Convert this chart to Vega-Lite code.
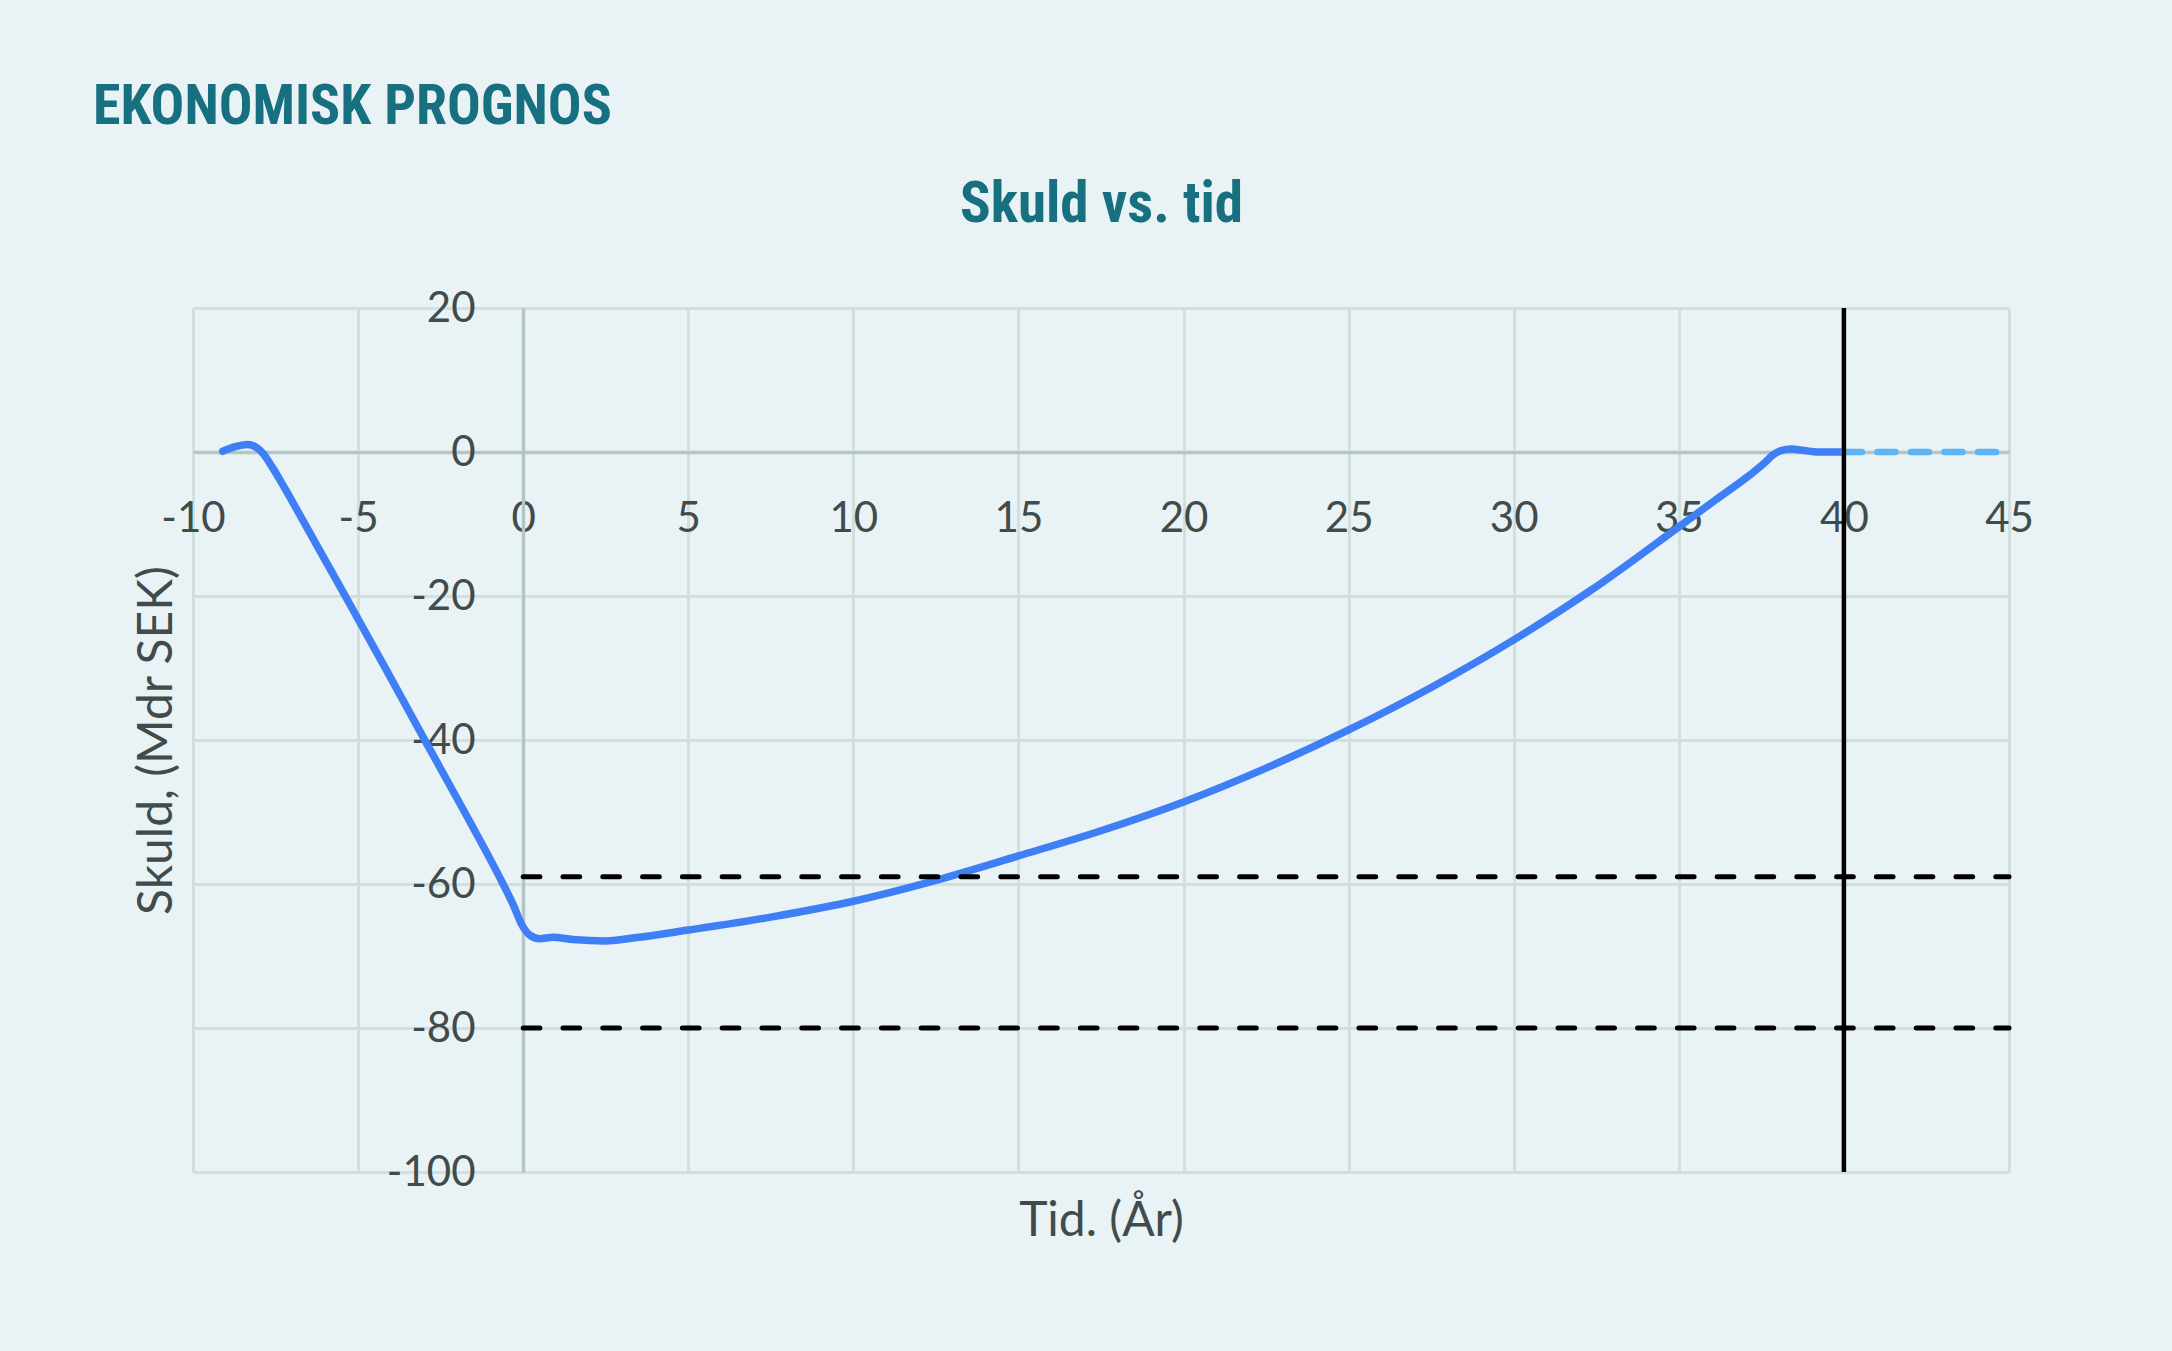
{
  "$schema": "https://vega.github.io/schema/vega-lite/v6.json",
  "width": 1816,
  "height": 864,
  "autosize": {"type": "none"},
  "padding": {"left": 193, "top": 308, "right": 163, "bottom": 179},
  "background": "#e9f2f4",
  "config": {
    "view": {"stroke": null},
    "axis": {"zindex": 0}
  },
  "title": {
    "text": "EKONOMISK PROGNOS",
    "anchor": "start",
    "frame": "group",
    "font": "Roboto Condensed, Roboto",
    "fontWeight": "bold",
    "fontSize": 56,
    "color": "#17707f",
    "baseline": "alphabetic",
    "dx": -100,
    "offset": -5
  },
  "datasets": {
    "curve": [
      {"t": -9.1, "v": 0.1}, {"t": -8.75, "v": 0.7}, {"t": -8.35, "v": 1.05}, {"t": -8.1, "v": 0.7},
      {"t": -7.88, "v": -0.2}, {"t": -7.6, "v": -2.1}, {"t": -7.35, "v": -4.0}, {"t": -7.1, "v": -6.0},
      {"t": -6.05, "v": -14.6}, {"t": -5.34, "v": -20.4}, {"t": -4.2, "v": -29.8}, {"t": -3.03, "v": -39.6},
      {"t": -1.8, "v": -49.8}, {"t": -0.61, "v": -60.0}, {"t": -0.3, "v": -62.9}, {"t": -0.05, "v": -65.6},
      {"t": 0.2, "v": -67.1}, {"t": 0.5, "v": -67.6}, {"t": 0.9, "v": -67.4}, {"t": 1.5, "v": -67.7},
      {"t": 2.5, "v": -67.9}, {"t": 3.5, "v": -67.4}, {"t": 5.0, "v": -66.4}, {"t": 7.5, "v": -64.6},
      {"t": 10.0, "v": -62.4}, {"t": 12.5, "v": -59.5}, {"t": 15.0, "v": -56.1}, {"t": 17.5, "v": -52.6},
      {"t": 20.0, "v": -48.6}, {"t": 22.5, "v": -43.9}, {"t": 25.0, "v": -38.6}, {"t": 27.5, "v": -32.7},
      {"t": 30.0, "v": -26.1}, {"t": 32.5, "v": -18.7}, {"t": 35.0, "v": -10.4}, {"t": 36.1, "v": -6.7},
      {"t": 37.15, "v": -3.2}, {"t": 37.6, "v": -1.5}, {"t": 37.85, "v": -0.4}, {"t": 38.1, "v": 0.2},
      {"t": 38.4, "v": 0.4}, {"t": 38.8, "v": 0.2}, {"t": 39.2, "v": 0.0}, {"t": 40.0, "v": 0.0}
    ],
    "forecast": [{"t": 40, "v": 0}, {"t": 45, "v": 0}],
    "limits": [{"v": -59}, {"v": -80}],
    "marker": [{"t": 40}]
  },
  "resolve": {"axis": {"x": "independent", "y": "independent"}},
  "layer": [
    {
      "data": {"name": "curve"},
      "mark": {"type": "line", "color": "#3f7ff5", "strokeWidth": 7.5, "strokeCap": "round", "strokeJoin": "round", "interpolate": "monotone"},
      "encoding": {
        "x": {
          "field": "t", "type": "quantitative",
          "scale": {"domain": [-10, 45], "nice": false, "zero": false},
          "axis": {
            "orient": "bottom", "offset": -720,
            "values": [-10, -5, 0, 5, 10, 15, 20, 25, 30, 35, 40, 45],
            "grid": true, "gridColor": "#d3dfdc", "gridWidth": 3,
            "domain": true, "domainColor": "#b4c5c5", "domainWidth": 3.5,
            "ticks": false, "labelPadding": 46, "labelFlush": false, "labelOverlap": false,
            "labelExpr": "replace(datum.label, '−', '-')",
            "labelFont": "Lato", "labelFontSize": 42, "labelColor": "#404b4b",
            "title": "Tid. (År)", "titleFont": "Lato", "titleFontSize": 48, "titleFontWeight": "normal",
            "titleColor": "#404b4b", "titlePadding": 658
          }
        },
        "y": {
          "field": "v", "type": "quantitative",
          "scale": {"domain": [-100, 20], "nice": false, "zero": false},
          "axis": {
            "orient": "left", "offset": -330,
            "values": [-100, -80, -60, -40, -20, 0, 20],
            "grid": true, "gridColor": "#d3dfdc", "gridWidth": 3,
            "domain": true, "domainColor": "#b4c5c5", "domainWidth": 3.5,
            "ticks": false, "labelPadding": 48, "labelFlush": false, "labelOverlap": false,
            "labelExpr": "replace(datum.label, '−', '-')",
            "labelFont": "Lato", "labelFontSize": 42, "labelColor": "#404b4b",
            "title": "Skuld, (Mdr SEK)", "titleFont": "Lato", "titleFontSize": 48, "titleFontWeight": "normal",
            "titleColor": "#404b4b", "titlePadding": 205
          }
        }
      }
    },
    {
      "data": {"name": "forecast"},
      "mark": {"type": "line", "color": "#5bb5f7", "strokeWidth": 6.5, "strokeCap": "round", "strokeDash": [18, 15.5]},
      "encoding": {
        "x": {"field": "t", "type": "quantitative", "axis": null},
        "y": {"field": "v", "type": "quantitative", "axis": null}
      }
    },
    {
      "data": {"name": "limits"},
      "mark": {"type": "rule", "color": "#000000", "strokeWidth": 5, "strokeCap": "round", "strokeDash": [16.7, 23.1]},
      "encoding": {
        "x": {"datum": 0, "type": "quantitative", "axis": null},
        "x2": {"datum": 45},
        "y": {"field": "v", "type": "quantitative", "axis": null}
      }
    },
    {
      "data": {"name": "marker"},
      "mark": {"type": "rule", "color": "#000000", "strokeWidth": 4.5},
      "encoding": {
        "x": {
          "field": "t", "type": "quantitative",
          "axis": {
            "orient": "top", "labels": false, "ticks": false, "domain": false, "grid": false,
            "title": "Skuld vs. tid", "titleFont": "Roboto Condensed, Roboto", "titleFontWeight": "bold",
            "titleFontSize": 57, "titleColor": "#17707f", "titleBaseline": "alphabetic", "titlePadding": 87
          }
        }
      }
    }
  ]
}
